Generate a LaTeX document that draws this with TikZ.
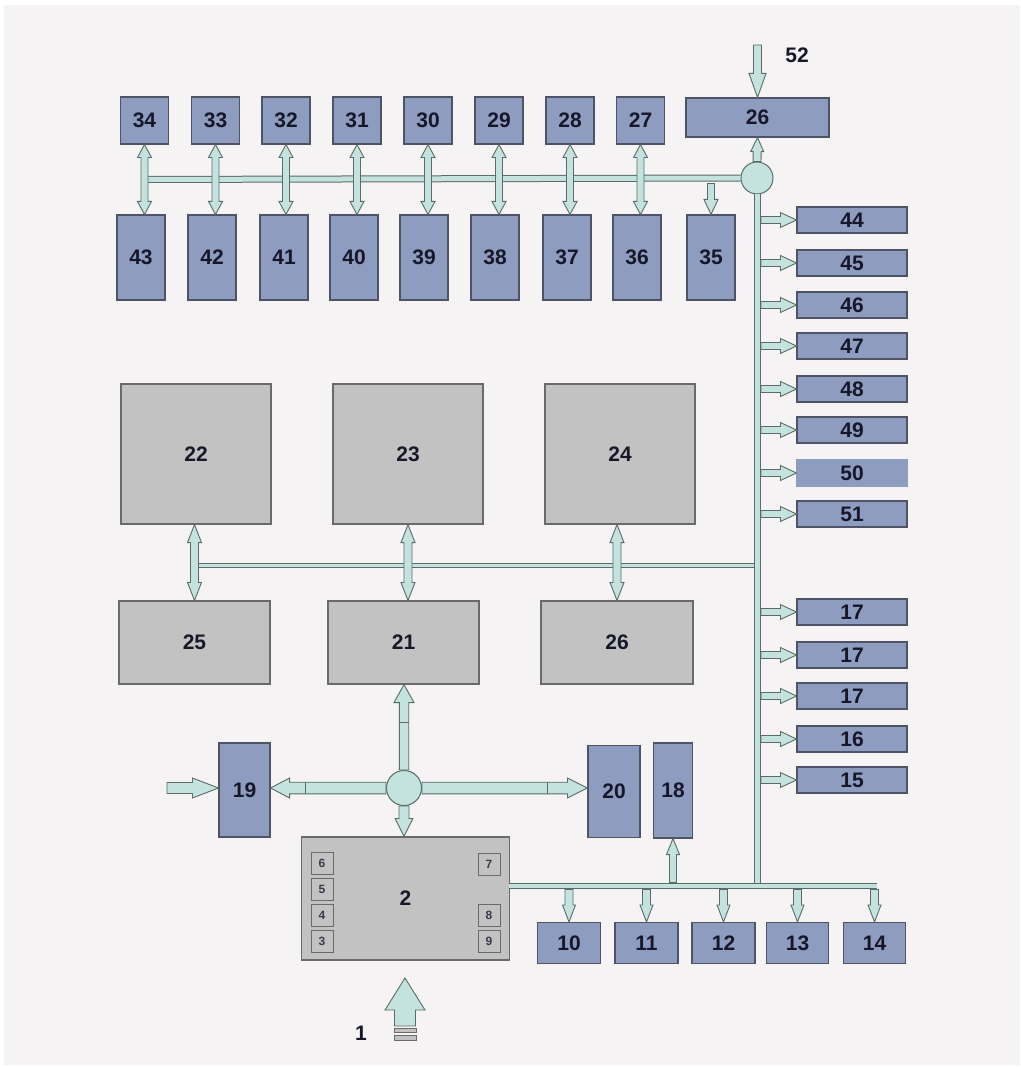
\documentclass[tikz,border=0pt]{standalone}
\usepackage{fontspec}
\setmainfont{Liberation Sans}
\usetikzlibrary{calc}

\definecolor{bgcol}{HTML}{F5F3F4}
\definecolor{bluebox}{HTML}{8E9CC0}
\definecolor{blueline}{HTML}{4E5466}
\definecolor{graybox}{HTML}{C2C2C2}
\definecolor{grayline}{HTML}{6A6A6A}
\definecolor{pipefill}{HTML}{C4E2DE}
\definecolor{pipeline}{HTML}{5B6B69}
\definecolor{txt}{HTML}{16182A}

% block arrow sizes: shaft half width / head half width / head length
\def\asw{4pt}\def\ahw{8pt}\def\ahl{14pt}
\tikzset{asize/.code args={#1/#2/#3}{\def\asw{#1pt}\def\ahw{#2pt}\def\ahl{#3pt}}}

% direction and length of an arrow from #1 to #2
\newcommand{\pipeprep}[2]{%
  \path let \p1=(#1), \p2=(#2) in
    \pgfextra{\pgfmathparse{atan2(\y2-\y1,\x2-\x1)}\xdef\pipeang{\pgfmathresult}%
      \pgfmathparse{veclen(\x2-\x1,\y2-\y1)}\xdef\pipelen{\pgfmathresult}%
      \xdef\pipex{\x1}\xdef\pipey{\y1}};}
% one head
\newcommand{\pipearrow}[3][]{%
  \pipeprep{#2}{#3}%
  \path[pipe,#1,shift={(\pipex,\pipey)},rotate=\pipeang]
    (0pt,-\asw) -- ({\pipelen pt-\ahl},-\asw) -- ({\pipelen pt-\ahl},-\ahw)
    -- (\pipelen pt,0pt) -- ({\pipelen pt-\ahl},\ahw) -- ({\pipelen pt-\ahl},\asw)
    -- (0pt,\asw) -- cycle;}
% two heads
\newcommand{\pipedarrow}[3][]{%
  \pipeprep{#2}{#3}%
  \path[pipe,#1,shift={(\pipex,\pipey)},rotate=\pipeang]
    (0pt,0pt) -- (\ahl,\ahw) -- (\ahl,\asw) -- ({\pipelen pt-\ahl},\asw)
    -- ({\pipelen pt-\ahl},\ahw) -- (\pipelen pt,0pt) -- ({\pipelen pt-\ahl},-\ahw)
    -- ({\pipelen pt-\ahl},-\asw) -- (\ahl,-\asw) -- (\ahl,-\ahw) -- cycle;}

\begin{document}
\begin{tikzpicture}[x=1pt, y=-1pt,
    blk/.style={draw=blueline, fill=bluebox, line width=1.1pt, inner sep=0pt, text=txt,
      font=\bfseries\fontsize{21}{21}\selectfont},
    tbox/.style={blk, minimum width=48pt, minimum height=47pt},
    lbox/.style={blk, minimum width=48pt, minimum height=85pt},
    rbox/.style={blk, minimum width=110pt, minimum height=26pt},
    fbox/.style={blk, minimum height=41pt},
    gbox/.style={blk, draw=grayline, fill=graybox},
    cell/.style={draw=grayline, fill=graybox, line width=1pt, inner sep=0pt, minimum size=22pt,
      text=txt!85, font=\bfseries\fontsize{12}{12}\selectfont},
    lbl/.style={text=txt, font=\bfseries\fontsize{21}{21}\selectfont},
    hub/.style={circle, draw=pipeline, fill=pipefill, line width=1pt, inner sep=0pt},
    bus/.style={draw=pipeline, double=pipefill, line width=1pt, double distance=5pt},
    pipe/.style={draw=pipeline, fill=pipefill, line width=0.9pt, line join=miter}]

    \useasboundingbox (0,0) rectangle (1020,1067);
    \fill[bgcol] (4,5) rectangle (1020,1065);

    % --- 1. Upper rows ---
    \node[tbox] (b34) at (144.5,120.5) {34};
    \node[tbox] (b33) at (215.5,120.5) {33};
    \node[tbox] (b32) at (286,120.5) {32};
    \node[tbox] (b31) at (357,120.5) {31};
    \node[tbox] (b30) at (428,120.5) {30};
    \node[tbox] (b29) at (499,120.5) {29};
    \node[tbox] (b28) at (570,120.5) {28};
    \node[tbox] (b27) at (640.5,120.5) {27};
    \node[blk, minimum width=143pt, minimum height=39pt] (b26) at (757.5,117.5) {26};

    \node[lbox] (b43) at (141,257.5) {43};
    \node[lbox] (b42) at (212,257.5) {42};
    \node[lbox] (b41) at (284,257.5) {41};
    \node[lbox] (b40) at (354,257.5) {40};
    \node[lbox] (b39) at (424,257.5) {39};
    \node[lbox] (b38) at (495,257.5) {38};
    \node[lbox] (b37) at (567,257.5) {37};
    \node[lbox] (b36) at (637,257.5) {36};
    \node[lbox] (b35) at (711,257.5) {35};

    \node[hub, minimum size=32pt] (hubT) at (757,178) {};
    \node[lbl] (l52) at (797,55) {52};
    \coordinate (c52) at (757.5,45);

    % --- 2. Right column ---
    \node[rbox] (b44) at (852,220) {44};
    \node[rbox] (b45) at (852,263) {45};
    \node[rbox] (b46) at (852,305) {46};
    \node[rbox] (b47) at (852,346) {47};
    \node[rbox] (b48) at (852,389) {48};
    \node[rbox] (b49) at (852,430) {49};
    \node[rbox, draw=bluebox] (b50) at (852,473) {50};
    \node[rbox] (b51) at (852,514) {51};
    \node[rbox] (b17a) at (852,612) {17};
    \node[rbox] (b17b) at (852,655) {17};
    \node[rbox] (b17c) at (852,696) {17};
    \node[rbox] (b16) at (852,739) {16};
    \node[rbox] (b15) at (852,780) {15};

    % --- 3. Middle block ---
    \node[gbox, minimum width=150pt, minimum height=140pt] (g22) at (196,454) {22};
    \node[gbox, minimum width=150pt, minimum height=140pt] (g23) at (408,454) {23};
    \node[gbox, minimum width=150pt, minimum height=140pt] (g24) at (620,454) {24};
    \node[gbox, minimum width=151pt, minimum height=83pt] (g25) at (194.5,642.5) {25};
    \node[gbox, minimum width=151pt, minimum height=83pt] (g21) at (403.5,642.5) {21};
    \node[gbox, minimum width=152pt, minimum height=83pt] (g26) at (617,642.5) {26};

    % --- 4. Lower block ---
    \node[blk, minimum width=51pt, minimum height=94pt] (b19) at (244.5,790) {19};
    \node[blk, minimum width=52pt, minimum height=92pt] (b20) at (614,791.5) {20};
    \node[blk, minimum width=39pt, minimum height=95pt] (b18) at (673,790.5) {18};
    \node[hub, minimum size=35pt] (hubB) at (404,788) {};
    \coordinate (in19) at (167,788);

    \node[gbox, minimum width=208pt, minimum height=123pt] (g2) at (405.5,898.5) {2};
    \node[cell] (c6) at (322,863.5) {6};
    \node[cell] (c5) at (322,889.5) {5};
    \node[cell] (c4) at (322,915) {4};
    \node[cell] (c3) at (322,941.5) {3};
    \node[cell] (c7) at (489,864) {7};
    \node[cell] (c8) at (489,915.5) {8};
    \node[cell] (c9) at (489,941.5) {9};

    \node[fbox, minimum width=63pt] (b10) at (569,943) {10};
    \node[fbox, minimum width=63pt] (b11) at (646.5,943) {11};
    \node[fbox, minimum width=63pt] (b12) at (723.5,943) {12};
    \node[fbox, minimum width=62pt] (b13) at (797.5,943) {13};
    \node[fbox, minimum width=62pt] (b14) at (874.5,943) {14};

    \node[lbl] (l1) at (361,1033) {1};
    \coordinate (tip1) at (405,978);
    \coordinate (in2) at (405,1026);

    % Buses
    \coordinate (tb) at (143,179.5);
    \coordinate (tbb) at (143,183.5);
    \coordinate (mb) at (197,565);
    \coordinate (vb) at (757,883);
    \coordinate (vbr) at (761,200);
    \coordinate (bbL) at (509,886);
    \coordinate (bbR) at (877,886);
    \coordinate (bbt) at (509,882.5);
    \coordinate (bbb) at (509,889.5);
    \draw[bus] (tb) -- (hubT.west);
    \draw[bus, double distance=3pt] (mb) -- (mb -| vb);
    \draw[bus, double distance=4.5pt] (bbL) -- (bbR);
    \draw[bus] (hubT.south) -- (vb);

    % Top arrows
    \pipearrow[asize=4/8.5/24]{c52}{b26.north}
    \pipearrow[asize=4/6.5/14]{hubT.north}{b26.south}
    \pipedarrow[asize=3.5/7/13]{b34.south}{b34.south |- b43.north}
    \pipedarrow[asize=3.5/7/13]{b33.south}{b33.south |- b42.north}
    \pipedarrow[asize=3.5/7/13]{b32.south}{b32.south |- b41.north}
    \pipedarrow[asize=3.5/7/13]{b31.south}{b31.south |- b40.north}
    \pipedarrow[asize=3.5/7/13]{b30.south}{b30.south |- b39.north}
    \pipedarrow[asize=3.5/7/13]{b29.south}{b29.south |- b38.north}
    \pipedarrow[asize=3.5/7/13]{b28.south}{b28.south |- b37.north}
    \pipedarrow[asize=3.5/7/13]{b27.south}{b27.south |- b36.north}
    \pipearrow[asize=3.5/7/15]{b35.north |- tbb}{b35.north}

    % Right arrows
    \pipearrow[asize=3.5/7.5/16]{b44.west -| vbr}{b44.west}
    \pipearrow[asize=3.5/7.5/16]{b45.west -| vbr}{b45.west}
    \pipearrow[asize=3.5/7.5/16]{b46.west -| vbr}{b46.west}
    \pipearrow[asize=3.5/7.5/16]{b47.west -| vbr}{b47.west}
    \pipearrow[asize=3.5/7.5/16]{b48.west -| vbr}{b48.west}
    \pipearrow[asize=3.5/7.5/16]{b49.west -| vbr}{b49.west}
    \pipearrow[asize=3.5/7.5/16]{b50.west -| vbr}{b50.west}
    \pipearrow[asize=3.5/7.5/16]{b51.west -| vbr}{b51.west}
    \pipearrow[asize=3.5/7.5/16]{b17a.west -| vbr}{b17a.west}
    \pipearrow[asize=3.5/7.5/16]{b17b.west -| vbr}{b17b.west}
    \pipearrow[asize=3.5/7.5/16]{b17c.west -| vbr}{b17c.west}
    \pipearrow[asize=3.5/7.5/16]{b16.west -| vbr}{b16.west}
    \pipearrow[asize=3.5/7.5/16]{b15.west -| vbr}{b15.west}

    % Middle arrows
    \pipedarrow[asize=4/7/18]{g25.north |- g22.south}{g25.north}
    \pipedarrow[asize=4/7/18]{g23.south}{g23.south |- g21.north}
    \pipedarrow[asize=4/7/18]{g26.north |- g24.south}{g26.north}

    % Lower hub arrows
    \pipearrow[asize=4.7/10/18]{hubB.north}{hubB.north |- g21.south}
    \pipearrow[asize=5.8/10/19]{hubB.west}{hubB.west -| b19.east}
    \pipearrow[asize=5.8/10/20]{hubB.east}{hubB.east -| b20.west}
    \pipearrow[asize=5/9/18]{hubB.south}{hubB.south |- g2.north}
    \pipearrow[asize=5.5/10/26]{in19}{in19 -| b19.west}
    \draw[pipeline, line width=0.9pt] (305,782.2) -- (305,793.8);
    \draw[pipeline, line width=0.9pt] (547,782.2) -- (547,793.8);
    \draw[pipeline, line width=0.9pt] (399.3,722) -- (408.7,722);

    % Bottom bus arrows
    \pipearrow[asize=3.5/6.5/16]{b18.south |- bbt}{b18.south}
    \pipearrow[asize=4/6.5/17]{b10.north |- bbb}{b10.north}
    \pipearrow[asize=4/6.5/17]{b11.north |- bbb}{b11.north}
    \pipearrow[asize=4/6.5/17]{b12.north |- bbb}{b12.north}
    \pipearrow[asize=4/6.5/17]{b13.north |- bbb}{b13.north}
    \pipearrow[asize=4/6.5/17]{b14.north |- bbb}{b14.north}

    % Input 1
    \pipearrow[asize=10.5/20/32]{in2}{tip1}
    \draw[grayline, fill=graybox, line width=0.9pt] (394,1028.5) rectangle (416,1032.5);
    \draw[grayline, fill=graybox, line width=0.9pt] (394,1035.5) rectangle (416,1040);
\end{tikzpicture}
\end{document}
